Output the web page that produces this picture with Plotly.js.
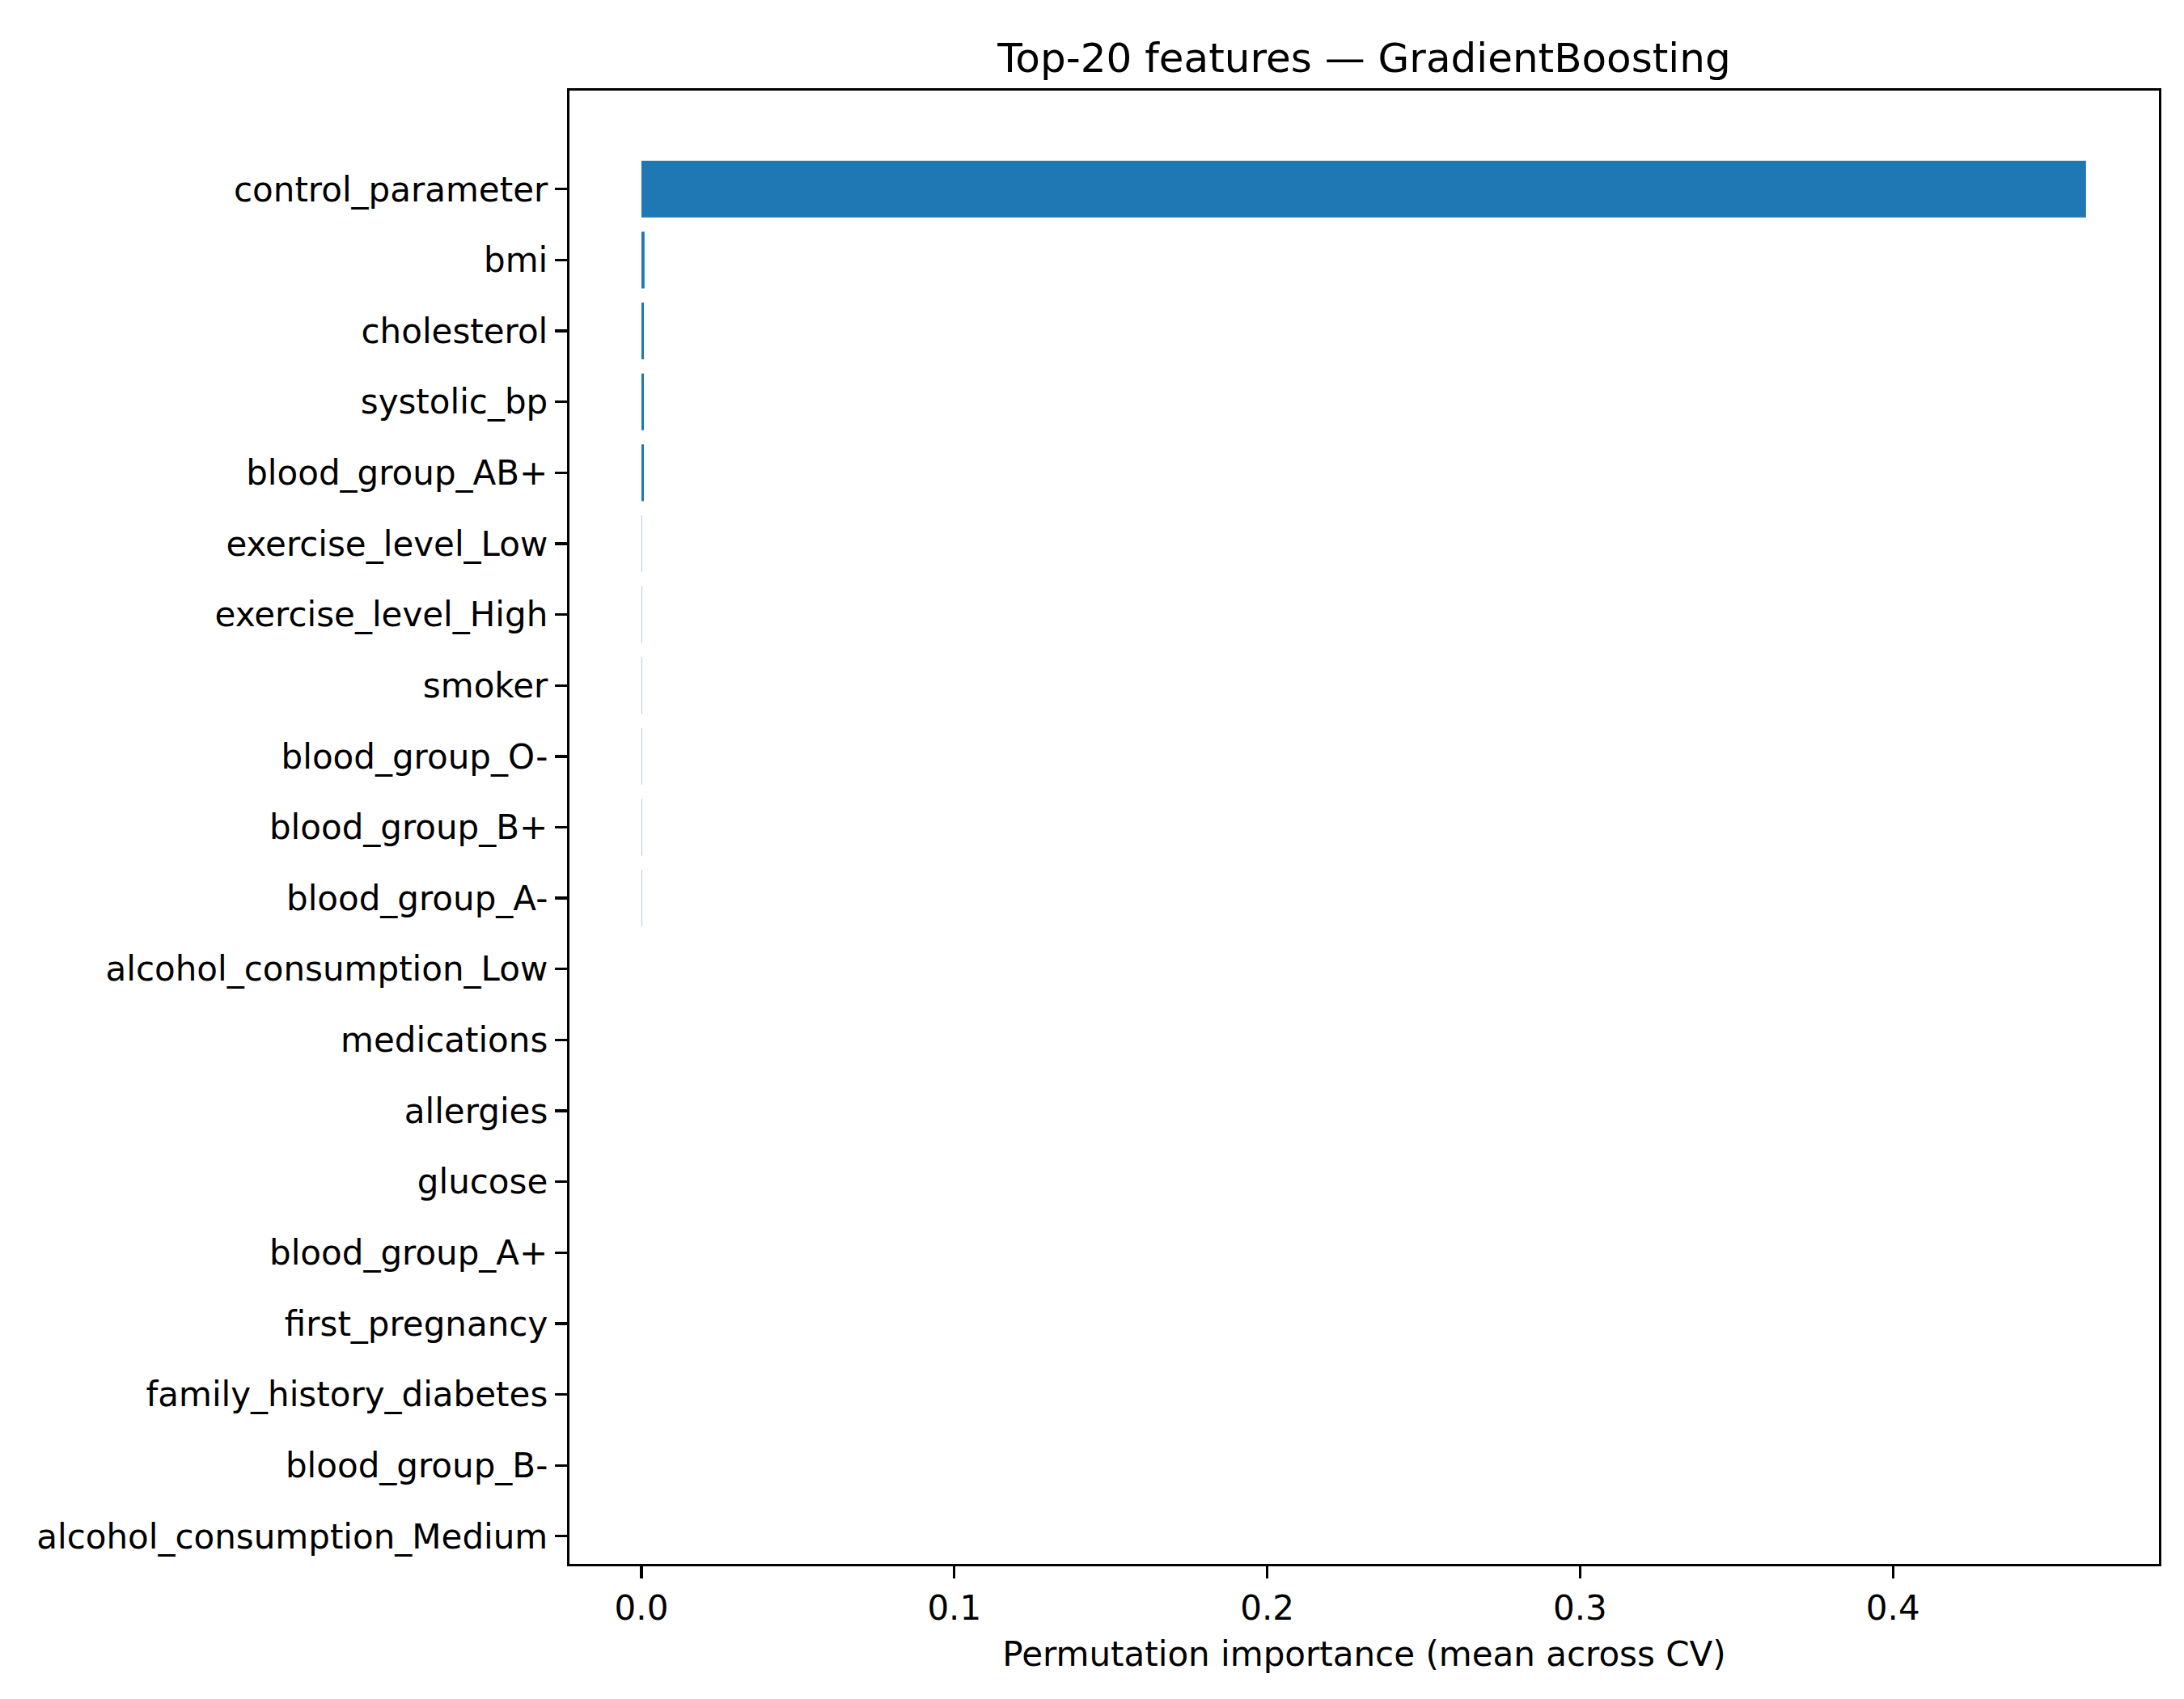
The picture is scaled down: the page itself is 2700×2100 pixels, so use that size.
<!DOCTYPE html>
<html>
<head>
<script src="https://cdn.plot.ly/plotly-3.0.1.min.js"></script>
<style>body{margin:0;background:#fff}</style>
</head>
<body>
<div id="chart" style="width:2700px;height:2100px"></div>
<script>
var features = ['control_parameter', 'bmi', 'cholesterol', 'systolic_bp', 'blood_group_AB+',
  'exercise_level_Low', 'exercise_level_High', 'smoker', 'blood_group_O-', 'blood_group_B+',
  'blood_group_A-', 'alcohol_consumption_Low', 'medications', 'allergies', 'glucose',
  'blood_group_A+', 'first_pregnancy', 'family_history_diabetes', 'blood_group_B-',
  'alcohol_consumption_Medium'];
var importance = [0.4617, 0.0010, 0.0008, 0.0008, 0.0008,
  0.0001, 0.0001, 0.0001, 0.0001, 0.0001,
  0.0001, 0, 0, 0, 0,
  0, 0, 0, 0, 0];
var xTicks = [0, 0.1, 0.2, 0.3, 0.4];

var font = {family: 'DejaVu Sans, sans-serif', size: 42, color: '#000'};
var data = [{
  type: 'bar',
  orientation: 'h',
  x: importance,
  y: features,
  width: 0.8,
  marker: {color: '#1f77b4'},
  hoverinfo: 'none'
}];
var layout = {
  width: 2700, height: 2100,
  margin: {l: 704, r: 31, t: 112, b: 167},
  paper_bgcolor: '#fff', plot_bgcolor: '#fff',
  font: font,
  showlegend: false,
  title: {text: 'Top-20 features — GradientBoosting', font: {family: font.family, size: 50, color: '#000'},
    x: 0.5 + (704 - 31) / 2 / 2700 * 0, xref: 'paper', y: 0.966, yanchor: 'middle'},
  xaxis: {
    range: [-0.023, 0.485], tickvals: xTicks, tickformat: '.1f',
    ticks: 'outside', ticklen: 15, tickwidth: 3.3, tickcolor: '#000',
    showgrid: false, zeroline: false, showline: true, linecolor: '#000', linewidth: 3.3, mirror: true,
    title: {text: 'Permutation importance (mean across CV)', font: font, standoff: 20}
  },
  yaxis: {
    type: 'category', categoryorder: 'array', categoryarray: features,
    range: [20.39 - 1, -1.39],
    ticks: 'outside', ticklen: 15, tickwidth: 3.3, tickcolor: '#000',
    showgrid: false, zeroline: false, showline: true, linecolor: '#000', linewidth: 3.3, mirror: true
  }
};
Plotly.newPlot('chart', data, layout, {displayModeBar: false, staticPlot: true});
</script>
</body>
</html>
